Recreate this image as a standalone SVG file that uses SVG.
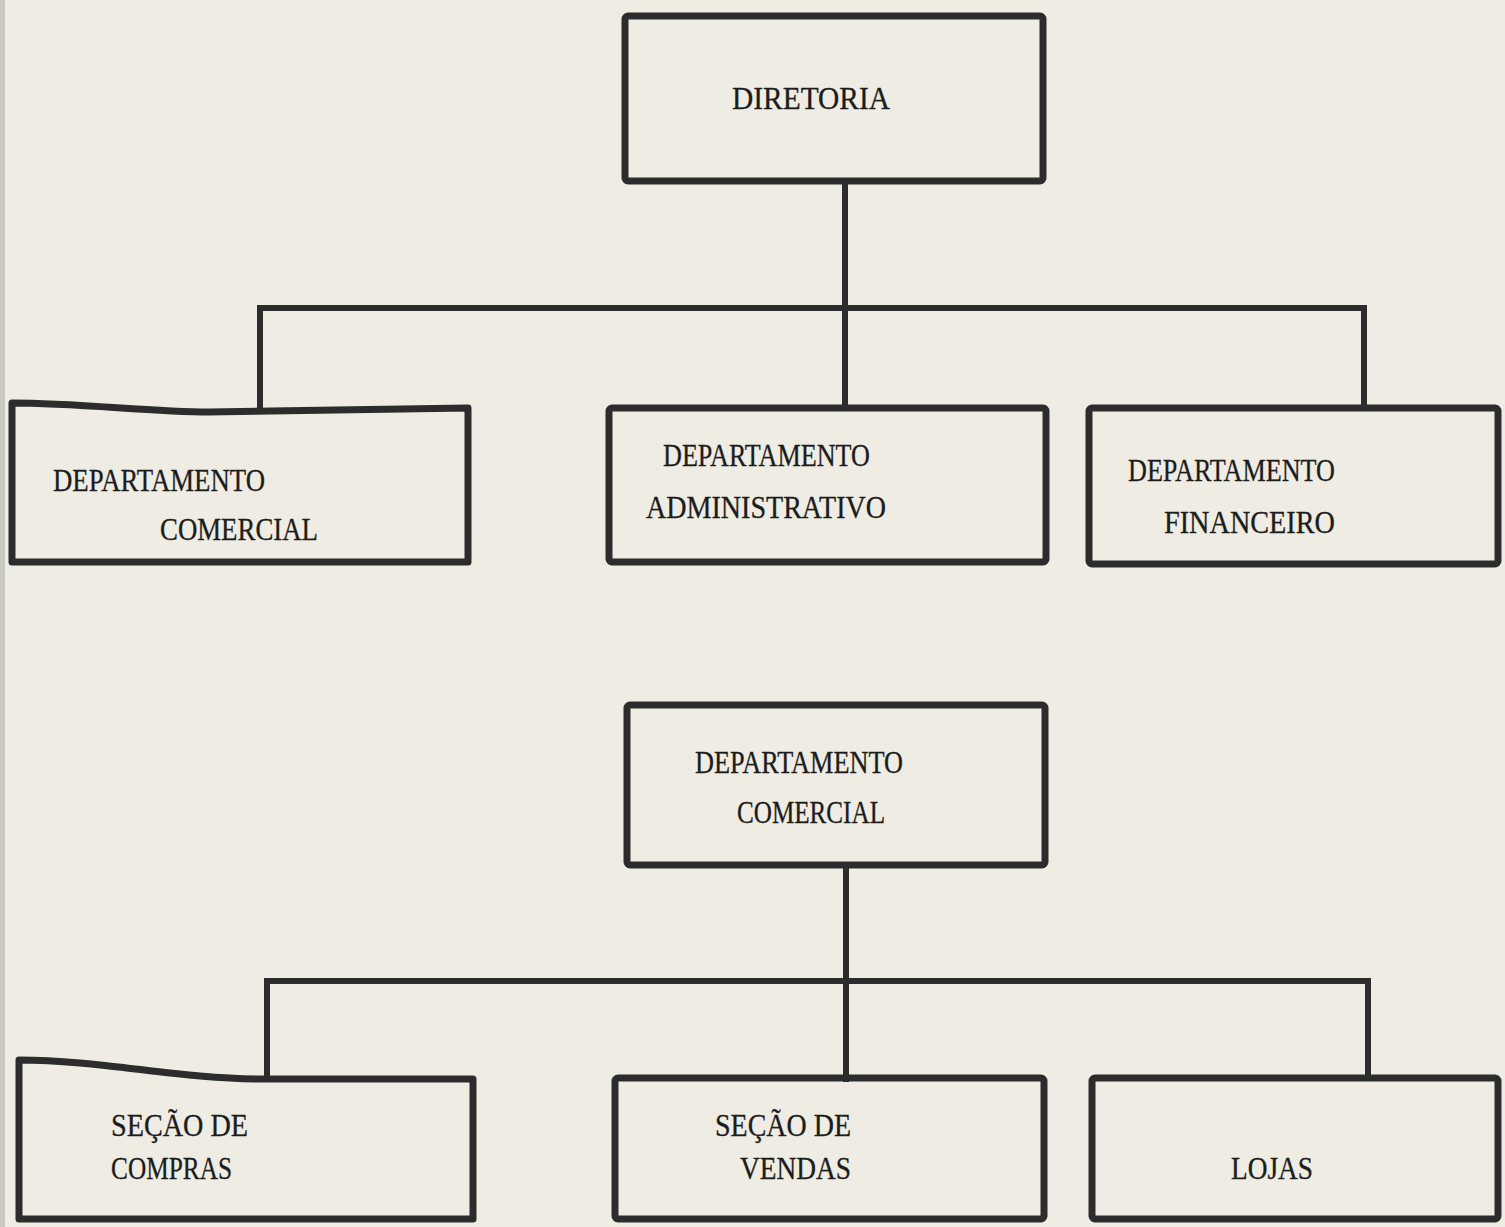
<svg xmlns="http://www.w3.org/2000/svg" width="1505" height="1227" viewBox="0 0 1505 1227">
<style>
.bx{fill:none;stroke:#2c2c2c;stroke-width:7;stroke-linejoin:round}
.ln{fill:none;stroke:#2c2c2c;stroke-width:6;stroke-linecap:square}
text{font-family:"Liberation Serif","DejaVu Serif",serif;font-size:31px;fill:#1c1c1c;stroke:#1c1c1c;stroke-width:0.3}
</style>
<rect x="0" y="0" width="1505" height="1227" fill="#eeece3"/>
<rect x="0" y="0" width="5" height="1227" fill="#c9c8c0"/>
<g id="connectors">
<path class="ln" d="M845,182 V408"/>
<path class="ln" d="M260,308 H1364"/>
<path class="ln" d="M260,308 V406"/>
<path class="ln" d="M1364,308 V408"/>
<path class="ln" d="M846,865 V1079"/>
<path class="ln" d="M267,981 H1368"/>
<path class="ln" d="M267,981 V1079"/>
<path class="ln" d="M1368,981 V1078"/>
</g>
<g id="diretoria">
<rect class="bx" x="625" y="16" width="418" height="165" rx="3"/>
<text x="732" y="109" textLength="158" lengthAdjust="spacingAndGlyphs">DIRETORIA</text>
</g>
<g id="dep-comercial-top">
<path class="bx" d="M12,403 C80,403 150,412 209,412 L468,408 L468,562 L12,562 Z"/>
<text x="53" y="491" textLength="212" lengthAdjust="spacingAndGlyphs">DEPARTAMENTO</text>
<text x="160" y="540" textLength="158" lengthAdjust="spacingAndGlyphs">COMERCIAL</text>
</g>
<g id="dep-administrativo">
<rect class="bx" x="609" y="408" width="437" height="154" rx="3"/>
<text x="663" y="466" textLength="207" lengthAdjust="spacingAndGlyphs">DEPARTAMENTO</text>
<text x="646" y="518" textLength="240" lengthAdjust="spacingAndGlyphs">ADMINISTRATIVO</text>
</g>
<g id="dep-financeiro">
<rect class="bx" x="1089" y="408" width="409" height="156" rx="3"/>
<text x="1128" y="481" textLength="207" lengthAdjust="spacingAndGlyphs">DEPARTAMENTO</text>
<text x="1164" y="533" textLength="171" lengthAdjust="spacingAndGlyphs">FINANCEIRO</text>
</g>
<g id="dep-comercial">
<rect class="bx" x="627" y="705" width="418" height="160" rx="3"/>
<text x="695" y="773" textLength="208" lengthAdjust="spacingAndGlyphs">DEPARTAMENTO</text>
<text x="737" y="823" textLength="148" lengthAdjust="spacingAndGlyphs">COMERCIAL</text>
</g>
<g id="secao-compras">
<path class="bx" d="M19,1060 C100,1060 180,1079 260,1079 L473,1079 L473,1219 L19,1219 Z"/>
<text x="111" y="1136" textLength="137" lengthAdjust="spacingAndGlyphs">SEÇÃO DE</text>
<text x="111" y="1179" textLength="121" lengthAdjust="spacingAndGlyphs">COMPRAS</text>
</g>
<g id="secao-vendas">
<rect class="bx" x="615" y="1078" width="429" height="141" rx="3"/>
<text x="715" y="1136" textLength="136" lengthAdjust="spacingAndGlyphs">SEÇÃO DE</text>
<text x="740" y="1179" textLength="111" lengthAdjust="spacingAndGlyphs">VENDAS</text>
</g>
<g id="lojas">
<rect class="bx" x="1092" y="1078" width="406" height="141" rx="3"/>
<text x="1231" y="1179" textLength="82" lengthAdjust="spacingAndGlyphs">LOJAS</text>
</g>
</svg>
